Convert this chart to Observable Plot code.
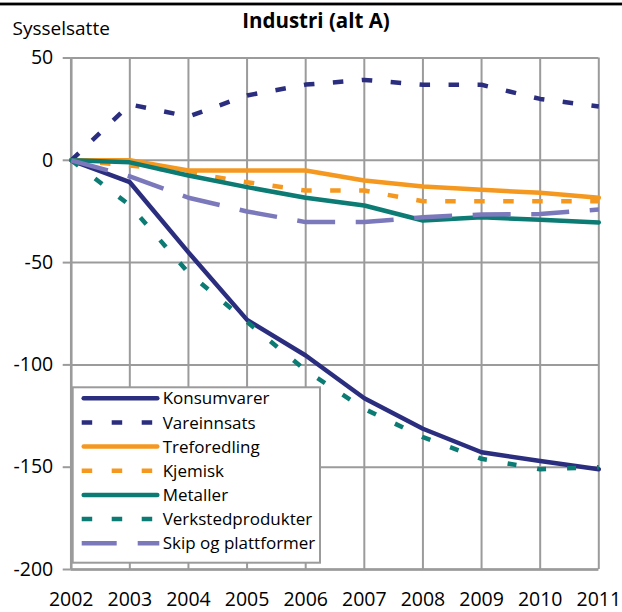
<!DOCTYPE html>
<html>
<head>
<meta charset="utf-8">
<script src="https://cdn.jsdelivr.net/npm/d3@7"></script>
<script src="https://cdn.jsdelivr.net/npm/@observablehq/plot@0.6"></script>
<style>
  html, body { margin: 0; padding: 0; background: #fff; }
  #chart { width: 622px; height: 612px; }
</style>
</head>
<body>
<div id="chart"></div>
<script>
// ---- data ----
const years = [2002, 2003, 2004, 2005, 2006, 2007, 2008, 2009, 2010, 2011];
const yTicks = [-200, -150, -100, -50, 0, 50];
const seriesNames = ["Konsumvarer", "Vareinnsats", "Treforedling", "Kjemisk", "Metaller", "Verkstedprodukter", "Skip og plattformer"];
const konsumvarer = [0, -10.7, -45, -78, -95.4, -116.3, -131.2, -142.7, -147, -151];
const vareinnsats = [0, 27.3, 21.4, 31.7, 37, 39.3, 36.9, 36.9, 30, 26.3];
const treforedling = [0, 0, -5, -5, -5, -9.9, -12.8, -14.4, -15.9, -18.3];
const kjemisk = [0, -2.5, -6, -10.7, -14.8, -14.8, -20, -20, -20, -20];
const metaller = [0, -1, -7.4, -13.1, -18.3, -22.1, -29.4, -27.8, -29.1, -30.4];
const verkstedprodukter = [0, -22, -55, -79, -102.7, -121.5, -135.3, -145.9, -151, -150];
const skip = [0, -7.9, -18.3, -25, -30.2, -30.2, -27.8, -26.5, -26.3, -24];
const title = "Industri (alt A)";
const yTitle = "Sysselsatte";

// ---- styles ----
const colors = ["#2b2e7f", "#2b2e7f", "#f5981f", "#f5981f", "#0b7b74", "#0b7b74", "#7b79bc"];
const dashes = [null, "10.5,18.5", null, "10.5,18.5", null, "9,21", "38,20.6"];
const legendDashes = [null, "10.5,19.5", null, "10.5,19.5", null, "10.5,19.5", "35,21"];
const valuesList = [konsumvarer, vareinnsats, treforedling, kjemisk, metaller, verkstedprodukter, skip];

const rows = seriesNames.flatMap((name, si) =>
  years.map((year, i) => ({series: name, year, value: valuesList[si][i]})));

const grid = "#9b9b9b";
const font = "'Open Sans', 'Noto Sans', sans-serif";

const lineMarks = seriesNames.map((name, si) =>
  Plot.line(rows.filter(d => d.series === name), {
    x: "year", y: "value",
    stroke: colors[si],
    strokeWidth: 4.5,
    strokeDasharray: dashes[si] ?? undefined,
    strokeLinecap: dashes[si] ? "butt" : "round",
    strokeLinejoin: "round"
  }));

const W = 622, H = 612;
const plot = Plot.plot({
  width: W,
  height: H,
  marginLeft: 70.7,
  marginRight: 23.7,
  marginTop: 57.5,
  marginBottom: 43,
  style: {fontFamily: font, fontSize: "19.5px", color: "#000", background: "#fff"},
  x: {type: "linear", domain: [2002, 2011]},
  y: {domain: [-200, 50]},
  marks: [
    Plot.gridX(years, {stroke: grid, strokeOpacity: 1, strokeWidth: 2}),
    Plot.gridY(yTicks, {stroke: grid, strokeOpacity: 1, strokeWidth: 2}),
    Plot.ruleY([-200], {stroke: grid, strokeWidth: 2.5}),
    Plot.ruleX([2002], {stroke: grid, strokeWidth: 2.5}),
    Plot.axisY(yTicks, {tickSize: 8, tickPadding: 10, stroke: grid, strokeWidth: 2, fill: "#000",
      tickFormat: d => String(d), label: null}),
    Plot.axisX(years, {tickSize: 0, tickPadding: 23, fill: "#000",
      tickFormat: d => String(d), label: null}),
    ...lineMarks
  ]
});
document.getElementById("chart").appendChild(plot);

// ---- extra text & legend ----
const svg = d3.select(plot);
svg.append("rect").attr("x", 0).attr("y", 2.6).attr("width", W).attr("height", 2.8).attr("fill", "#000");
svg.append("text").text(title)
  .attr("x", 316).attr("y", 28.3).attr("text-anchor", "middle")
  .attr("font-family", font).attr("font-weight", "bold").attr("font-size", "20.5px").attr("fill", "#000");
svg.append("text").text(yTitle)
  .attr("x", 12.5).attr("y", 35).attr("text-anchor", "start")
  .attr("font-family", font).attr("font-size", "19px").attr("fill", "#000");

const lg = svg.append("g");
lg.append("rect").attr("x", 72.7).attr("y", 387.3).attr("width", 247.3).attr("height", 175.4)
  .attr("fill", "#fff").attr("stroke", grid).attr("stroke-width", 2);
seriesNames.forEach((name, i) => {
  const cy = 398.3 + i * 24.15;
  lg.append("line").attr("x1", legendDashes[i] ? 81.7 : 83.7).attr("x2", legendDashes[i] ? 159.3 : 157.3)
    .attr("y1", cy).attr("y2", cy)
    .attr("stroke", colors[i]).attr("stroke-width", 4.5)
    .attr("stroke-linecap", legendDashes[i] ? "butt" : "round")
    .attr("stroke-dasharray", legendDashes[i]);
  lg.append("text").text(name)
    .attr("x", 162.7).attr("y", cy).attr("dy", "0.36em").attr("text-anchor", "start")
    .attr("font-family", font).attr("font-size", "17px").attr("fill", "#000");
});
</script>
</body>
</html>
